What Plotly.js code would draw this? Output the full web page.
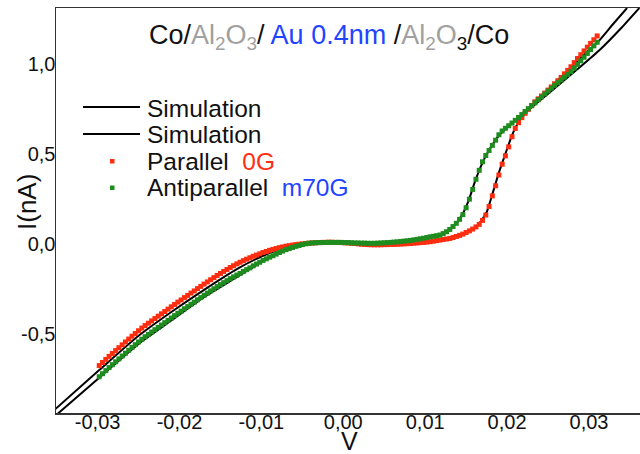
<!DOCTYPE html>
<html>
<head>
<meta charset="utf-8">
<script src="https://cdn.plot.ly/plotly-3.0.1.min.js"></script>
<style>html,body{margin:0;padding:0;background:#fff;}#chart{width:640px;height:454px;}</style>
</head>
<body>
<div id="chart"></div>
<script>
// Measured voltage sweep (V) shared by both data sets
const voltage = [
-0.0298,-0.0294,-0.0290,-0.0286,-0.0282,-0.0278,-0.0274,-0.0270,-0.0266,-0.0262,-0.0258,-0.0254,-0.0250,-0.0246,
-0.0242,-0.0238,-0.0234,-0.0230,-0.0226,-0.0222,-0.0218,-0.0214,-0.0210,-0.0206,
-0.0202,-0.0198,-0.0194,-0.0190,-0.0186,-0.0182,-0.0178,-0.0174,-0.0170,-0.0166,
-0.0162,-0.0158,-0.0154,-0.0150,-0.0146,-0.0142,-0.0138,-0.0134,-0.0130,-0.0126,
-0.0122,-0.0118,-0.0114,-0.0110,-0.0106,-0.0102,-0.0098,-0.0094,-0.0090,-0.0086,
-0.0082,-0.0078,-0.0074,-0.0070,-0.0066,-0.0062,-0.0058,-0.0054,-0.0050,-0.0046,
-0.0042,-0.0038,-0.0034,-0.0030,-0.0026,-0.0022,-0.0018,-0.0014,-0.0010,-0.0006,-0.0002,
0.0002,0.0006,0.0010,0.0014,0.0018,0.0022,0.0026,0.0030,0.0034,0.0038,
0.0042,0.0046,0.0050,0.0054,0.0058,0.0062,0.0066,0.0070,0.0074,0.0078,0.0082,0.0086,0.0090,0.0094,0.0098,0.0102,0.0106,
0.0110,0.0114,0.0118,0.0122,0.0126,0.0130,0.0134,0.0138,0.0142,0.0146,0.0150,0.0154,0.0158,0.0162,0.0166,
0.0170,0.0174,0.0178,0.0182,0.0186,0.0190,0.0194,0.0198,0.0202,0.0206,0.0210,0.0214,0.0218,0.0222,
0.0226,0.0230,0.0234,0.0238,0.0242,0.0246,0.0250,0.0254,0.0258,0.0262,0.0266,0.0270,0.0274,0.0278,0.0282,0.0286,0.0290,0.0294,0.0298,0.0302,0.0306,0.0310
];

// Parallel 0G current (nA)
const parallelI = [
-0.675,-0.658,-0.641,-0.624,-0.608,-0.592,-0.576,-0.560,-0.544,-0.528,-0.512,-0.497,-0.482,-0.467,
-0.453,-0.440,-0.427,-0.414,-0.401,-0.388,-0.375,-0.362,-0.349,-0.336,
-0.323,-0.311,-0.298,-0.286,-0.273,-0.261,-0.248,-0.236,-0.223,-0.211,
-0.199,-0.187,-0.175,-0.164,-0.153,-0.142,-0.131,-0.121,-0.111,-0.102,
-0.093,-0.085,-0.077,-0.069,-0.062,-0.055,-0.048,-0.042,-0.036,-0.031,
-0.026,-0.021,-0.017,-0.013,-0.010,-0.007,-0.004,-0.002,0.000,0.002,
0.004,0.005,0.006,0.007,0.008,0.008,0.009,0.009,0.008,0.008,0.007,
0.006,0.005,0.003,0.002,0.000,-0.002,-0.003,-0.004,-0.005,-0.005,
-0.005,-0.005,-0.004,-0.004,-0.003,-0.003,-0.002,-0.001,0.000,0.001,0.002,0.004,0.005,0.007,0.008,0.010,0.012,
0.015,0.018,0.021,0.024,0.027,0.030,0.035,0.041,0.047,0.054,0.063,0.072,0.082,0.094,0.108,
0.130,0.160,0.207,0.266,0.322,0.382,0.442,0.488,0.538,0.594,0.640,0.672,0.700,0.724,
0.746,0.767,0.788,0.804,0.820,0.836,0.853,0.870,0.888,0.905,0.923,0.943,0.962,0.982,1.005,1.028,1.049,1.070,1.091,1.112,1.132,1.153
];

// Antiparallel m70G current (nA)
const antiparallelI = [
-0.737,-0.720,-0.703,-0.686,-0.670,-0.654,-0.638,-0.622,-0.606,-0.590,-0.574,-0.559,-0.544,-0.529,
-0.515,-0.502,-0.489,-0.476,-0.463,-0.450,-0.437,-0.424,-0.411,-0.398,
-0.385,-0.373,-0.360,-0.348,-0.335,-0.323,-0.310,-0.298,-0.285,-0.273,
-0.261,-0.249,-0.237,-0.226,-0.215,-0.204,-0.193,-0.183,-0.173,-0.164,
-0.153,-0.143,-0.133,-0.122,-0.112,-0.102,-0.092,-0.083,-0.074,-0.066,
-0.057,-0.048,-0.040,-0.032,-0.026,-0.020,-0.014,-0.009,-0.004,0.000,
0.003,0.005,0.006,0.007,0.007,0.008,0.008,0.008,0.008,0.008,0.008,
0.007,0.007,0.006,0.005,0.005,0.004,0.004,0.003,0.003,0.003,
0.004,0.005,0.006,0.007,0.008,0.010,0.011,0.013,0.015,0.017,0.019,0.022,0.025,0.028,0.031,0.035,0.039,
0.042,0.045,0.049,0.057,0.067,0.080,0.096,0.114,0.136,0.162,0.200,0.248,0.302,0.358,0.408,
0.455,0.490,0.518,0.546,0.575,0.605,0.626,0.641,0.655,0.670,0.685,0.701,0.717,0.734,
0.750,0.766,0.782,0.799,0.815,0.831,0.847,0.863,0.879,0.894,0.909,0.924,0.939,0.955,0.975,0.995,1.015,1.035,1.056,1.077,1.098,1.118
];

// Simulation curves
const simParallelV = [-0.0352,-0.0298,-0.0250,-0.0210,-0.0170,-0.0130,-0.0100,-0.0080,-0.0060,-0.0040,-0.0010,0.0020,0.0050,0.0080,0.0105,0.0130,0.0150,0.0165,0.0175,0.0182,0.0190,0.0198,0.0206,0.0214,0.0224,0.0240,0.0260,0.0285,0.0313,0.0330,0.03465];
const simParallelI = [-0.918,-0.700,-0.510,-0.378,-0.255,-0.140,-0.070,-0.035,-0.010,0.004,0.008,0.000,-0.004,0.002,0.012,0.031,0.065,0.108,0.175,0.275,0.395,0.500,0.602,0.676,0.735,0.815,0.892,1.010,1.130,1.222,1.308];
const simAntiV = [-0.0352,-0.0298,-0.0250,-0.0210,-0.0170,-0.0130,-0.0100,-0.0080,-0.0060,-0.0040,-0.0010,0.0020,0.0050,0.0080,0.0105,0.0120,0.0135,0.0145,0.0153,0.0160,0.0168,0.0178,0.0190,0.0205,0.0224,0.0240,0.0260,0.0285,0.0313,0.0340,0.03615];
const simAntiI = [-0.955,-0.742,-0.555,-0.425,-0.296,-0.185,-0.100,-0.050,-0.018,0.002,0.008,0.005,0.006,0.018,0.038,0.053,0.100,0.160,0.240,0.335,0.430,0.520,0.600,0.665,0.735,0.795,0.870,0.965,1.075,1.200,1.308];

// Axis ticks
const xTickVals = [-0.03,-0.02,-0.01,0.00,0.01,0.02,0.03];
const xTickText = ["-0,03","-0,02","-0,01","0,00","0,01","0,02","0,03"];
const yTickVals = [-0.5,0.0,0.5,1.0];
const yTickText = ["-0,5","0,0","0,5","1,0"];

const FONT = "Arial, 'Liberation Sans', sans-serif";
const RED = "#ff2d10";
const GREEN = "#1f8c1f";
const BLUE = "#2244ff";
const GRAY = "#a0a0a0";

const traces = [
  {x: simParallelV, y: simParallelI, type: "scatter", mode: "lines", line: {color: "#000", width: 2, shape: "spline", smoothing: 0.6}, name: "Simulation", showlegend: false},
  {x: simAntiV, y: simAntiI, type: "scatter", mode: "lines", line: {color: "#000", width: 2, shape: "spline", smoothing: 0.6}, name: "Simulation", showlegend: false},
  {x: voltage, y: parallelI, type: "scatter", mode: "markers", marker: {symbol: "square", size: 5, color: RED}, name: "Parallel 0G", showlegend: false},
  {x: voltage, y: antiparallelI, type: "scatter", mode: "markers", marker: {symbol: "square", size: 5, color: GREEN}, name: "Antiparallel m70G", showlegend: false}
];

function px2paperX(px){ return (px - 56) / 584; }
function px2paperY(py){ return (413 - py) / 405; }

const legendText = {xref: "paper", yref: "paper", xanchor: "left", yanchor: "middle", showarrow: false, font: {family: FONT, size: 24.5, color: "#111"}};

const layout = {
  width: 640, height: 454,
  margin: {l: 56, r: 0, t: 8, b: 41, pad: 0},
  paper_bgcolor: "#fff", plot_bgcolor: "#fff",
  showlegend: false,
  font: {family: FONT, color: "#111"},
  xaxis: {
    range: [-0.03508, 0.03623], showgrid: false, zeroline: false,
    showline: true, linecolor: "#333", linewidth: 1.5, mirror: true,
    ticks: "", tickmode: "array", tickvals: xTickVals, ticktext: xTickText,
    tickfont: {family: FONT, size: 20, color: "#111"}, automargin: false,
    ticklabelstandoff: -10
  },
  yaxis: {
    range: [-0.938, 1.308], showgrid: false, zeroline: false,
    showline: true, linecolor: "#333", linewidth: 1.5, mirror: false,
    ticks: "", tickmode: "array", tickvals: yTickVals, ticktext: yTickText,
    tickfont: {family: FONT, size: 20, color: "#111"}, automargin: false,
    ticklabelstandoff: -5
  },
  shapes: [
    {type: "line", xref: "paper", yref: "paper", x0: px2paperX(83), x1: px2paperX(140), y0: px2paperY(107), y1: px2paperY(107), line: {color: "#000", width: 2}},
    {type: "line", xref: "paper", yref: "paper", x0: px2paperX(83), x1: px2paperX(140), y0: px2paperY(134), y1: px2paperY(134), line: {color: "#000", width: 2}},
    {type: "rect", xref: "paper", yref: "paper", x0: px2paperX(110), x1: px2paperX(114.5), y0: px2paperY(163.5), y1: px2paperY(159), fillcolor: RED, line: {width: 0}},
    {type: "rect", xref: "paper", yref: "paper", x0: px2paperX(110), x1: px2paperX(114.5), y0: px2paperY(190), y1: px2paperY(185.5), fillcolor: GREEN, line: {width: 0}}
  ],
  annotations: [
    Object.assign({}, legendText, {x: px2paperX(145), y: px2paperY(108), text: "Simulation"}),
    Object.assign({}, legendText, {x: px2paperX(145), y: px2paperY(134), text: "Simulation"}),
    Object.assign({}, legendText, {x: px2paperX(145), y: px2paperY(161), text: "Parallel\u00a0\u00a0<span style='color:" + RED + "'>0G</span>"}),
    Object.assign({}, legendText, {x: px2paperX(145), y: px2paperY(187), text: "Antiparallel\u00a0\u00a0<span style='color:" + BLUE + "'>m70G</span>"}),
    {xref: "paper", yref: "paper", x: px2paperX(329), y: px2paperY(37), xanchor: "center", yanchor: "middle", showarrow: false,
     font: {family: FONT, size: 27, color: "#111"},
     text: "Co/<span style='color:" + GRAY + "'>Al<sub>2</sub>O<sub>3</sub></span>/ <span style='color:" + BLUE + "'>Au 0.4nm</span> /<span style='color:" + GRAY + "'>Al<sub>2</sub>O</span><sub>3</sub>/Co"},
    {xref: "paper", yref: "paper", x: px2paperX(349), y: px2paperY(441), xanchor: "center", yanchor: "middle", showarrow: false,
     font: {family: FONT, size: 25, color: "#111"}, text: "V"},
    {xref: "paper", yref: "paper", x: px2paperX(27), y: px2paperY(202), xanchor: "center", yanchor: "middle", showarrow: false, textangle: -90,
     font: {family: FONT, size: 26, color: "#111"}, text: "I(nA)"}
  ]
};

Plotly.newPlot("chart", traces, layout, {staticPlot: true, displayModeBar: false});
</script>
</body>
</html>
